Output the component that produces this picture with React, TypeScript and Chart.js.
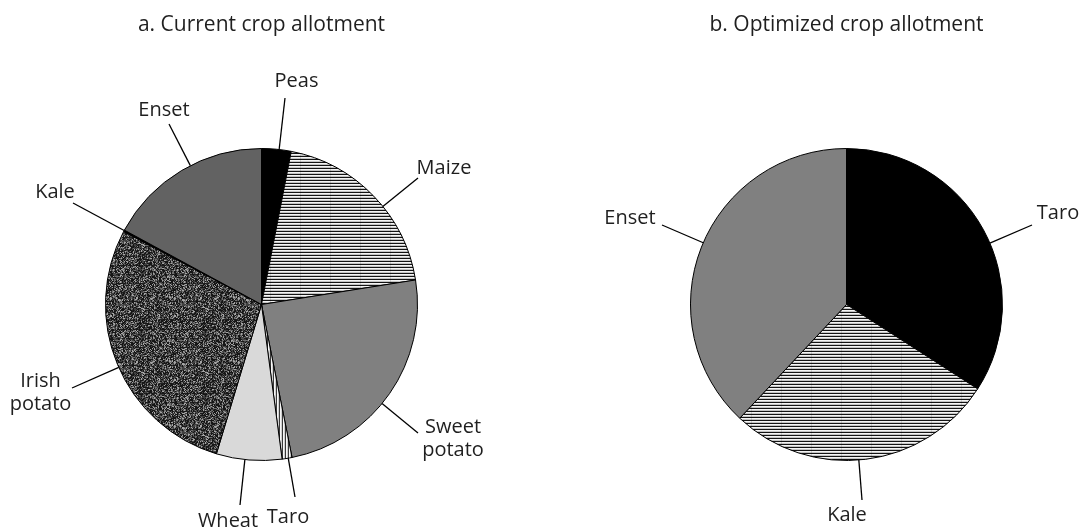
import { useEffect, useRef } from 'react';
import { Chart, registerables } from 'chart.js';

Chart.register(...registerables);

// ---------- data ----------
const panelTitles = ['a. Current crop allotment', 'b. Optimized crop allotment'];

const currentCrops = ['Peas', 'Maize', 'Sweet potato', 'Taro', 'Wheat', 'Irish potato', 'Kale', 'Enset'];
const currentShares = [3.06, 19.44, 24.39, 1.03, 6.78, 28.11, 0.15, 17.1];

const optimizedCrops = ['Taro', 'Kale', 'Enset'];
const optimizedShares = [34.1, 27.9, 38.0];

// ---------- styles ----------
const FONT = '"Open Sans", "DejaVu Sans", sans-serif';
const TEXT_COLOR = '#1f1f1f';
const LABEL_SIZE = 20;
const TITLE_SIZE = 21;
const LINE_GAP = 23;

// leader-line end and text baseline, relative to pie centre (pixels)
const currentLabelLayout = [
  { end: [23.5, -206.5], text: [35, -217.8] },
  { end: [156.5, -126.5], text: [182.5, -130.2] },
  { end: [156.5, 128.5], text: [191.5, 128.2] },
  { end: [33.5, 192.5], text: [26.5, 218.5] },
  { end: [-21.5, 200.5], text: [-33.5, 222] },
  { end: [-189.5, 83.5], text: [-221, 82.8] },
  { end: [-188.5, -101.5], text: [-206.5, -106.2] },
  { end: [-92.5, -180.5], text: [-97.5, -188.5] },
];
const optimizedLabelLayout = [
  { end: [185.5, -79.5], text: [211.5, -85.5] },
  { end: [15.5, 195.5], text: [0.5, 216.5] },
  { end: [-184.5, -79.5], text: [-216.5, -80.5] },
];

function makeTile(w: number, h: number, paint: (g: CanvasRenderingContext2D) => void) {
  const c = document.createElement('canvas');
  c.width = w;
  c.height = h;
  const g = c.getContext('2d')!;
  paint(g);
  return g.createPattern(c, 'repeat')!;
}

function horizontalHatch() {
  return makeTile(30, 3, (g) => {
    g.fillStyle = '#141414';
    g.fillRect(0, 0, 30, 1);
    g.fillStyle = '#f4f4f4';
    g.fillRect(0, 1, 30, 1);
    g.fillStyle = '#c4c4c4';
    g.fillRect(0, 2, 30, 1);
    g.fillStyle = 'rgba(0,0,0,0.12)';
    g.fillRect(0, 0, 1, 3);
  });
}

function verticalHatch() {
  return makeTile(3, 3, (g) => {
    g.fillStyle = '#3a3a3a';
    g.fillRect(0, 0, 1, 3);
    g.fillStyle = '#f6f6f6';
    g.fillRect(1, 0, 1, 3);
    g.fillStyle = '#cfcfcf';
    g.fillRect(2, 0, 1, 3);
  });
}

function stipple() {
  return makeTile(64, 64, (g) => {
    const img = g.createImageData(64, 64);
    let s = 987654321;
    for (let i = 0; i < 64 * 64; i++) {
      s = (Math.imul(s, 1103515245) + 12345) >>> 0;
      const r = (s >>> 16) & 255;
      let v = r < 90 ? 22 : r < 165 ? 64 : r < 222 ? 110 : 165;
      const row = Math.floor(i / 64);
      if (row % 9 === 0 && v > 60) v -= 30;
      img.data[i * 4] = v;
      img.data[i * 4 + 1] = v;
      img.data[i * 4 + 2] = v;
      img.data[i * 4 + 3] = 255;
    }
    g.putImageData(img, 0, 0);
  });
}

const leaderLabels = {
  id: 'leaderLabels',
  afterDatasetsDraw(chart: any, _args: any, opts: any) {
    const layout = opts.layout as { end: number[]; text: number[] }[];
    const names = chart.data.labels as string[];
    const meta = chart.getDatasetMeta(0);
    const ctx = chart.ctx as CanvasRenderingContext2D;
    ctx.save();
    meta.data.forEach((arc: any, i: number) => {
      const L = layout[i];
      if (!L) return;
      const { x, y, outerRadius } = arc.getProps(['x', 'y', 'outerRadius'], true);
      const [ex, ey] = L.end;
      const len = Math.hypot(ex, ey);
      ctx.beginPath();
      ctx.moveTo(x + (ex / len) * outerRadius, y + (ey / len) * outerRadius);
      ctx.lineTo(x + ex, y + ey);
      ctx.lineWidth = 1.3;
      ctx.strokeStyle = '#000';
      ctx.stroke();
      ctx.font = `${LABEL_SIZE}px ${FONT}`;
      ctx.fillStyle = TEXT_COLOR;
      ctx.textAlign = 'center';
      ctx.textBaseline = 'alphabetic';
      String(names[i])
        .split(' ')
        .forEach((t, k) => ctx.fillText(t, x + L.text[0], y + L.text[1] + k * LINE_GAP));
    });
    ctx.restore();
  },
};

function makePie(
  canvas: HTMLCanvasElement,
  title: string,
  labels: string[],
  values: number[],
  colors: any[],
  layout: any[],
  padLeft: number,
  padRight: number
) {
  return new Chart(canvas, {
    type: 'pie',
    data: {
      labels,
      datasets: [
        {
          data: values,
          backgroundColor: colors,
          borderColor: '#000',
          borderWidth: 1,
        },
      ],
    },
    options: {
      responsive: false,
      animation: false,
      layout: { padding: { left: padLeft, right: padRight, top: 0, bottom: 66 } },
      plugins: {
        legend: { display: false },
        tooltip: { enabled: false },
        title: {
          display: true,
          text: title,
          color: TEXT_COLOR,
          font: { family: FONT, size: TITLE_SIZE, weight: 'normal', lineHeight: 1.2 },
          padding: { top: 12, bottom: 148 - 12 - TITLE_SIZE * 1.2 },
        },
        leaderLabels: { layout },
      } as any,
    },
    plugins: [leaderLabels],
  });
}

export default function App() {
  const leftRef = useRef<HTMLCanvasElement>(null);
  const rightRef = useRef<HTMLCanvasElement>(null);

  useEffect(() => {
    let charts: Chart[] = [];
    let cancelled = false;
    const build = () => {
      if (cancelled || !leftRef.current || !rightRef.current) return;
      const currentColors = [
        '#000000',
        horizontalHatch(),
        '#808080',
        verticalHatch(),
        '#d9d9d9',
        stipple(),
        '#000000',
        '#626262',
      ];
      const optimizedColors = ['#000000', horizontalHatch(), '#808080'];
      charts = [
        makePie(leftRef.current, panelTitles[0], currentCrops, currentShares, currentColors, currentLabelLayout, 105, 123),
        makePie(rightRef.current, panelTitles[1], optimizedCrops, optimizedShares, optimizedColors, optimizedLabelLayout, 149, 79),
      ];
    };
    const fonts = (document as any).fonts;
    if (fonts && fonts.load) {
      fonts.load(`20px "Open Sans"`).then(build, build);
    } else {
      build();
    }
    return () => {
      cancelled = true;
      charts.forEach((c) => c.destroy());
    };
  }, []);

  return (
    <div style={{ position: 'absolute', left: 0, top: 0, width: 1082, height: 527, background: '#fff' }}>
      <canvas ref={leftRef} width={541} height={527} style={{ position: 'absolute', left: 0, top: 0 }} />
      <canvas ref={rightRef} width={541} height={527} style={{ position: 'absolute', left: 541, top: 0 }} />
    </div>
  );
}
